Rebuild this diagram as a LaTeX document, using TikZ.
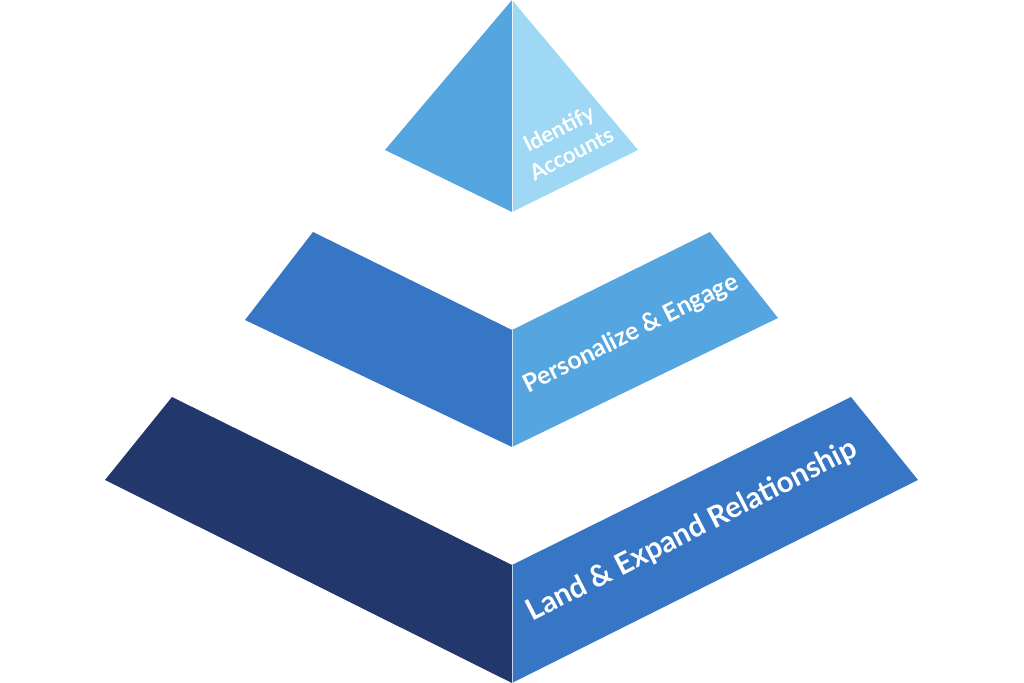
\documentclass[tikz,border=0pt]{standalone}
\usepackage{fontspec}
\setmainfont{Lato}
\usepackage{tikz}
\pgfdeclarelayer{edgelayer}
\pgfdeclarelayer{nodelayer}
\pgfsetlayers{edgelayer,nodelayer,main}
\definecolor{skyblue}{HTML}{9ED8F5}
\definecolor{midblue}{HTML}{55A6E0}
\definecolor{royalblue}{HTML}{3775C5}
\definecolor{navyblue}{HTML}{22376B}
\tikzstyle{none} = []
\tikzstyle{label text}=[text=white, font=\bfseries, align=center, inner sep=0pt]

\begin{document}
\begin{tikzpicture}
	\useasboundingbox (0, 0) rectangle (20.48, 13.66);
	\begin{pgfonlayer}{nodelayer}
		\node [style=none] (0) at (10.24, 13.66) {};
		\node [style=none] (1) at (7.7, 10.66) {};
		\node [style=none] (2) at (12.76, 10.66) {};
		\node [style=none] (3) at (10.24, 9.42) {};
		\node [style=none] (4) at (6.26, 9.02) {};
		\node [style=none] (5) at (4.9, 7.26) {};
		\node [style=none] (6) at (10.24, 7.06) {};
		\node [style=none] (7) at (10.24, 4.72) {};
		\node [style=none] (8) at (14.2, 9.02) {};
		\node [style=none] (9) at (15.56, 7.3) {};
		\node [style=none] (10) at (3.44, 5.72) {};
		\node [style=none] (11) at (2.1, 4.06) {};
		\node [style=none] (12) at (10.24, 2.36) {};
		\node [style=none] (13) at (10.24, 0) {};
		\node [style=none] (14) at (17.02, 5.72) {};
		\node [style=none] (15) at (18.36, 4.06) {};
		\node [style=label text, font=\bfseries\fontsize{12.5}{16}\selectfont, rotate=27] (16) at (11.3, 10.84) {Identify\\Accounts};
		\node [style=label text, font=\bfseries\fontsize{14.2}{16}\selectfont, rotate=26.5] (17) at (12.62, 6.98) {Personalize \& Engage};
		\node [style=label text, font=\bfseries\fontsize{16.8}{19}\selectfont, rotate=27] (18) at (13.84, 3.04) {Land \& Expand Relationship};
	\end{pgfonlayer}
	\begin{pgfonlayer}{edgelayer}
		\fill [midblue] (0.center) to (1.center) to (3.center) to cycle;
		\fill [skyblue] (0.center) to (2.center) to (3.center) to cycle;
		\fill [royalblue] (4.center) to (6.center) to (7.center) to (5.center) to cycle;
		\fill [midblue] (8.center) to (6.center) to (7.center) to (9.center) to cycle;
		\fill [navyblue] (10.center) to (12.center) to (13.center) to (11.center) to cycle;
		\fill [royalblue] (14.center) to (12.center) to (13.center) to (15.center) to cycle;
		\draw [white!80!skyblue, very thin] (0.center) to (3.center);
		\draw [white!70!midblue, very thin] (6.center) to (7.center);
		\draw [white!70!royalblue, very thin] (12.center) to (13.center);
	\end{pgfonlayer}
\end{tikzpicture}
\end{document}
